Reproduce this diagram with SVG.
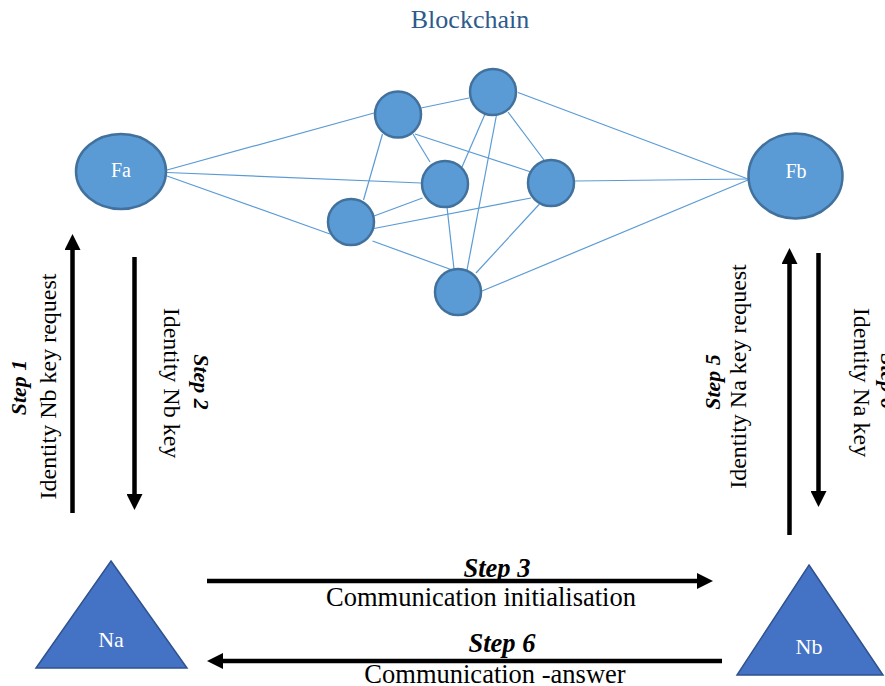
<svg xmlns="http://www.w3.org/2000/svg" width="885" height="686" viewBox="0 0 885 686">
<style>
  .edge { stroke: #5B9BD5; stroke-width: 1.2; fill: none; }
  .bc { fill: #5B9BD5; stroke: #41719C; stroke-width: 2.5; }
  .tri { fill: #4472C4; stroke: #2F528F; stroke-width: 1.5; }
  .lbl { font-family: "Liberation Serif", "Times New Roman", serif; fill: #FFFFFF; text-anchor: middle; }
  .arr { stroke: #000000; stroke-width: 4.5; fill: none; marker-end: url(#head); }
  .txt { font-family: "Liberation Serif", "Times New Roman", serif; fill: #000000; text-anchor: middle; }
  .step { font-weight: bold; font-style: italic; }
</style>
<defs>
  <marker id="head" viewBox="0 0 16 16" refX="1" refY="8" markerWidth="16" markerHeight="16" markerUnits="userSpaceOnUse" orient="auto">
    <path d="M0,0 L16,8 L0,16 z" fill="#000000"/>
  </marker>
</defs>
<rect width="885" height="686" fill="#FFFFFF"/>

<text x="470" y="28" font-family="'Liberation Serif', 'Times New Roman', serif" font-size="26" fill="#2E5A8C" text-anchor="middle">Blockchain</text>

<g id="connectors">
  <line class="edge" x1="167" y1="170" x2="374" y2="113"/>
  <line class="edge" x1="167" y1="172.5" x2="421" y2="183"/>
  <line class="edge" x1="167" y1="176" x2="330" y2="234"/>
  <line class="edge" x1="421" y1="108" x2="469" y2="98"/>
  <line class="edge" x1="413" y1="134" x2="430" y2="162"/>
  <line class="edge" x1="415" y1="134" x2="531" y2="172"/>
  <line class="edge" x1="382.5" y1="134" x2="363.5" y2="200"/>
  <line class="edge" x1="485" y1="114" x2="462" y2="167"/>
  <line class="edge" x1="496.5" y1="115" x2="467" y2="270"/>
  <line class="edge" x1="508" y1="112" x2="544" y2="160"/>
  <line class="edge" x1="518" y1="92.5" x2="748" y2="179"/>
  <line class="edge" x1="422.5" y1="198" x2="374" y2="216"/>
  <line class="edge" x1="447" y1="207" x2="454" y2="269"/>
  <line class="edge" x1="531" y1="198" x2="374" y2="228.5"/>
  <line class="edge" x1="539.5" y1="204" x2="476" y2="273"/>
  <line class="edge" x1="575" y1="181" x2="748" y2="179"/>
  <line class="edge" x1="372.5" y1="241" x2="455" y2="271"/>
  <line class="edge" x1="482" y1="291" x2="748" y2="180"/>

  <line class="arr" x1="72.5" y1="513" x2="72.5" y2="249"/>
  <line class="arr" x1="134.5" y1="257" x2="134.5" y2="495"/>
  <line class="arr" x1="789.5" y1="535" x2="789.5" y2="263"/>
  <line class="arr" x1="818.5" y1="253" x2="818.5" y2="492"/>
  <line class="arr" x1="207" y1="581" x2="698" y2="581"/>
  <line class="arr" x1="722" y1="661" x2="222" y2="661"/>
</g>

<g id="Fa">
  <ellipse class="bc" cx="121" cy="171.5" rx="45" ry="37.5"/>
  <text class="lbl" x="121" y="177" font-size="20">Fa</text>
</g>
<g id="Fb">
  <ellipse class="bc" cx="795.5" cy="176" rx="47" ry="42.5"/>
  <text class="lbl" x="796" y="178" font-size="20">Fb</text>
</g>
<g id="bc1"><circle class="bc" cx="398" cy="114.5" r="23"/></g>
<g id="bc2"><circle class="bc" cx="493" cy="92" r="23"/></g>
<g id="bc3"><circle class="bc" cx="445" cy="184" r="23"/></g>
<g id="bc4"><circle class="bc" cx="551" cy="183" r="23"/></g>
<g id="bc5"><circle class="bc" cx="351" cy="222" r="23"/></g>
<g id="bc6"><circle class="bc" cx="458" cy="292" r="23"/></g>

<g id="Na">
  <polygon class="tri" points="111,561 187,668 36,668"/>
  <text class="lbl" x="111" y="647" font-size="22">Na</text>
</g>
<g id="Nb">
  <polygon class="tri" points="809,565 883,675 737,675"/>
  <text class="lbl" x="809" y="654" font-size="22">Nb</text>
</g>

<g id="labels">
  <text class="txt step" font-size="22" transform="translate(26,387.5) rotate(-90)">Step 1</text>
  <text class="txt" font-size="24" transform="translate(56,386.5) rotate(-90)">Identity Nb key request</text>
  <text class="txt step" font-size="22" transform="translate(194,382) rotate(90)">Step 2</text>
  <text class="txt" font-size="24" transform="translate(164,383) rotate(90)">Identity Nb key</text>
  <text class="txt step" font-size="22" transform="translate(720,382) rotate(-90)">Step 5</text>
  <text class="txt" font-size="24" transform="translate(746,376.5) rotate(-90)">Identity Na key request</text>
  <text class="txt" font-size="24" transform="translate(854,382.5) rotate(90)">Identity Na key</text>
  <text class="txt step" font-size="22" transform="translate(881,381) rotate(90)">Step 6</text>
  <text class="txt step" font-size="26.5" x="497" y="577">Step 3</text>
  <text class="txt" font-size="26.5" x="481" y="606">Communication initialisation</text>
  <text class="txt step" font-size="26.5" x="502" y="652">Step 6</text>
  <text class="txt" font-size="26.5" x="495" y="683">Communication -answer</text>
</g>
</svg>
